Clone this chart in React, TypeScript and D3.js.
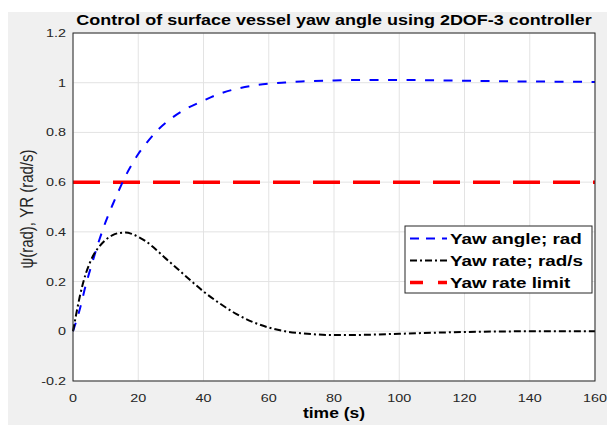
import React from "react";
import * as d3 from "d3";

// Yaw angle response (rad) sampled over time (s)
const angleTime = [0, 2, 4, 6, 8, 10, 12, 14, 16, 18, 20, 23, 26, 30, 35, 40, 45, 50, 55, 60, 65, 70, 80, 90, 100, 110, 120, 130, 140, 150, 160];
const yawAngle = [0, 0.085, 0.19, 0.28, 0.365, 0.44, 0.505, 0.565, 0.622, 0.67, 0.713, 0.765, 0.81, 0.855, 0.897, 0.928, 0.956, 0.975, 0.988, 0.996, 1.001, 1.005, 1.009, 1.011, 1.011, 1.01, 1.008, 1.006, 1.005, 1.004, 1.003];

// Yaw rate response (rad/s) sampled over time (s)
const rateTime = [0, 1, 2, 3, 4, 5, 6, 8, 10, 12, 14, 16, 18, 20, 22, 24, 26, 28, 30, 33, 36, 40, 45, 50, 55, 60, 65, 70, 75, 80, 85, 90, 100, 110, 120, 130, 140, 150, 160];
const yawRate = [0, 0.07, 0.135, 0.19, 0.235, 0.27, 0.3, 0.34, 0.368, 0.386, 0.395, 0.397, 0.392, 0.38, 0.365, 0.345, 0.322, 0.298, 0.275, 0.24, 0.205, 0.16, 0.112, 0.07, 0.038, 0.015, 0.0, -0.008, -0.013, -0.015, -0.015, -0.014, -0.01, -0.006, -0.003, -0.001, 0.0, 0.0, 0.0];

const rateLimit = 0.6;

const xTicks = [0, 20, 40, 60, 80, 100, 120, 140, 160];
const yTicks = [-0.2, 0, 0.2, 0.4, 0.6, 0.8, 1, 1.2];
const yTickLabels = ["-0.2", "0", "0.2", "0.4", "0.6", "0.8", "1", "1.2"];

const legendLabels = ["Yaw angle; rad", "Yaw rate; rad/s", "Yaw rate limit"];

const W = 607;
const H = 425;
const left = 73;
const right = 595;
const top = 33;
const bottom = 381;
const SX = 1.25; // horizontal text stretch

const FONT = "'Liberation Sans', Arial, Helvetica, sans-serif";
const AXIS = "#262626";

export default function App() {
  const x = d3.scaleLinear().domain([0, 160]).range([left, right]);
  const y = d3.scaleLinear().domain([-0.2, 1.2]).range([bottom, top]);

  const angleLine = d3
    .line<number>()
    .x((_, i) => x(angleTime[i]))
    .y((d) => y(d))
    .curve(d3.curveMonotoneX);
  const rateLine = d3
    .line<number>()
    .x((_, i) => x(rateTime[i]))
    .y((d) => y(d))
    .curve(d3.curveMonotoneX);

  const stretchText = (cx: number, cy: number, props: any, text: string, sx: number = SX) => (
    <g transform={`translate(${cx},${cy}) scale(${sx},1)`} key={props.key}>
      <text x={0} y={0} {...props}>
        {text}
      </text>
    </g>
  );

  const legX = 405;
  const legY = 226;
  const legW = 187;
  const legH = 67;
  const rowY = [238.5, 260.5, 282.5];
  const styles = [
    { stroke: "#0000ff", width: 2, dash: "9 7" },
    { stroke: "#000000", width: 2, dash: "7 3 2 3" },
    { stroke: "#ff0000", width: 3.5, dash: "13 15" },
  ];

  return (
    <svg
      width={W}
      height={H}
      style={{ position: "absolute", left: 0, top: 0, background: "#ffffff" }}
    >
      <rect x={8} y={12} width={W - 8} height={H - 12} fill="#f0f0f0" />
      <rect x={left} y={top} width={right - left} height={bottom - top} fill="#ffffff" />

      {/* grid */}
      {xTicks.map((t) => (
        <line key={`gx${t}`} x1={x(t)} x2={x(t)} y1={top} y2={bottom} stroke="#e3e3e3" strokeWidth={1} />
      ))}
      {yTicks.map((t) => (
        <line key={`gy${t}`} x1={left} x2={right} y1={y(t)} y2={y(t)} stroke="#e3e3e3" strokeWidth={1} />
      ))}

      {/* series */}
      <line
        x1={x(0)}
        x2={x(160)}
        y1={y(rateLimit)}
        y2={y(rateLimit)}
        stroke="#ff0000"
        strokeWidth={3.5}
        strokeDasharray="27 13"
      />
      <path d={angleLine(yawAngle) || ""} fill="none" stroke="#0000ff" strokeWidth={2} strokeDasharray="9 9.5" />
      <path d={rateLine(yawRate) || ""} fill="none" stroke="#000000" strokeWidth={2} strokeDasharray="7 3 2 3" />

      {/* axes box */}
      <rect x={left} y={top} width={right - left} height={bottom - top} fill="none" stroke={AXIS} strokeWidth={1} />

      {/* tick labels */}
      {xTicks.map((t) =>
        stretchText(x(t), 402, { textAnchor: "middle", fontFamily: FONT, fontSize: 11.5, fill: AXIS, key: `xt${t}` }, String(t))
      )}
      {yTicks.map((t, i) =>
        stretchText(66, y(t) + 4, { textAnchor: "end", fontFamily: FONT, fontSize: 11.5, fill: AXIS, key: `yt${t}` }, yTickLabels[i])
      )}

      {/* title and axis labels */}
      {stretchText(334, 25, { textAnchor: "middle", fontFamily: FONT, fontSize: 14.5, fontWeight: "bold", fill: "#000" }, "Control of surface vessel yaw angle using 2DOF-3 controller", 1.24)}
      {stretchText(334, 418, { textAnchor: "middle", fontFamily: FONT, fontSize: 14, fontWeight: "bold", fill: "#000" }, "time (s)")}
      <g transform={`translate(33,209) scale(${SX},1) rotate(-90)`}>
        <text textAnchor="middle" fontFamily={FONT} fontSize={15} fill={AXIS}>
          ψ(rad), YR (rad/s)
        </text>
      </g>

      {/* legend */}
      <rect x={legX} y={legY} width={legW} height={legH} fill="#ffffff" stroke={AXIS} strokeWidth={1} />
      {legendLabels.map((lab, i) => (
        <g key={lab}>
          <line
            x1={410}
            x2={447}
            y1={rowY[i]}
            y2={rowY[i]}
            stroke={styles[i].stroke}
            strokeWidth={styles[i].width}
            strokeDasharray={styles[i].dash}
          />
          {stretchText(450, rowY[i] + 5, { fontFamily: FONT, fontSize: 14.5, fontWeight: "bold", fill: "#000" }, lab, 1.3)}
        </g>
      ))}
    </svg>
  );
}
